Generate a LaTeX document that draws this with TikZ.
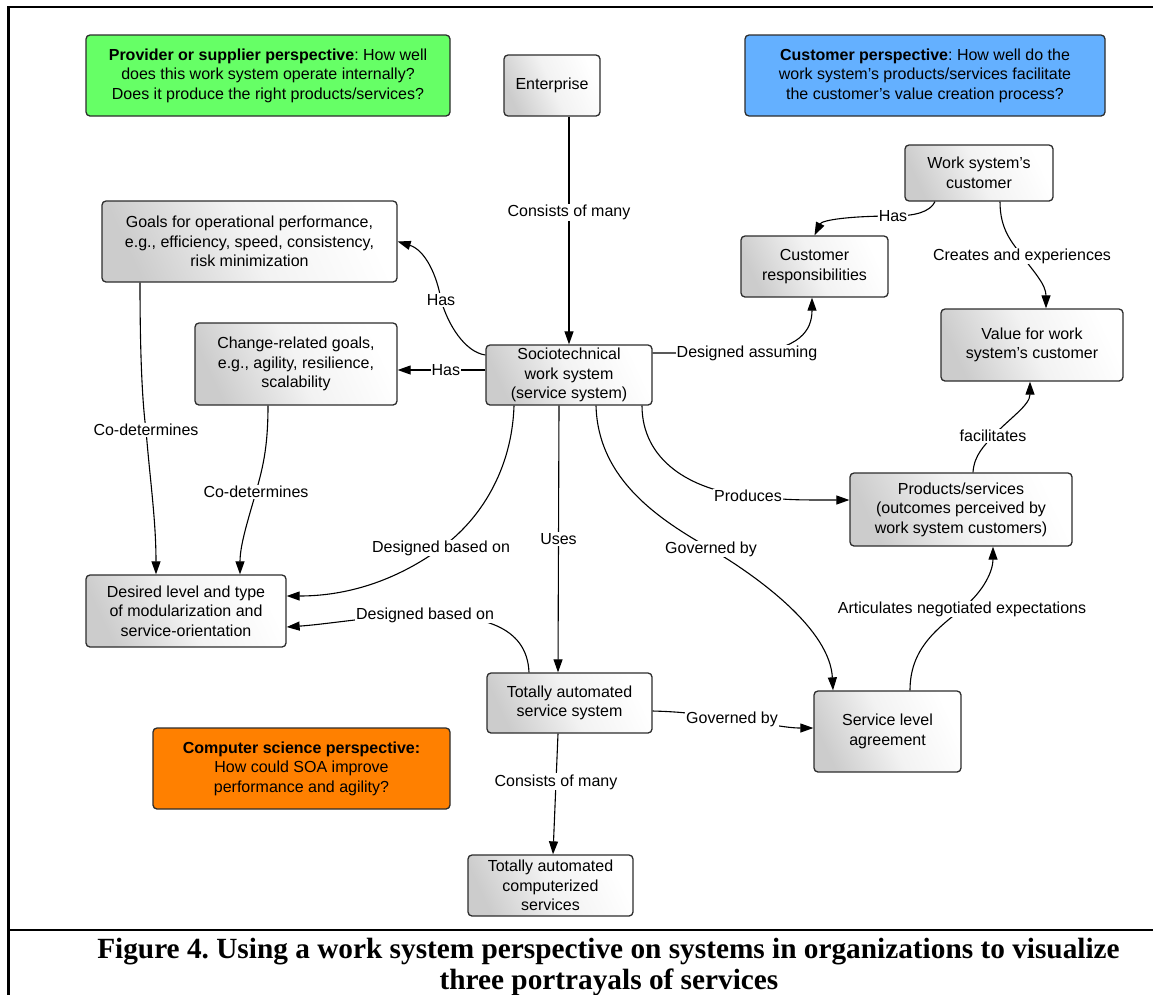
\documentclass[tikz,border=0pt]{standalone}
\usepackage{fontspec}
\setmainfont{Liberation Sans}
\newfontfamily\capfont{Liberation Serif}
\usetikzlibrary{arrows.meta}
\frenchspacing

\definecolor{provgreen}{RGB}{102,255,102}
\definecolor{custblue}{RGB}{100,176,255}
\definecolor{csorange}{RGB}{255,128,0}
\definecolor{rim}{RGB}{45,45,45}

\tikzset{
  txt/.style={font=\fontsize{16}{19.5}\selectfont},
  boxbase/.style={txt, draw=rim, line width=1.3pt, rounded corners=4pt,
    align=center, inner sep=2pt},
  wbox/.style={boxbase, left color=black!20, right color=white,
    middle color=black!5, shading angle=115},
  pbox/.style={boxbase, fill=#1},
  lbl/.style={txt, fill=white, inner sep=1pt},
  arr/.style={draw=black, line width=1.1pt, -{Triangle[length=13pt,width=9pt]}},
  capline/.style={font=\capfont\bfseries\fontsize{29.3}{32}\selectfont, anchor=base},
}

\begin{document}
\begin{tikzpicture}[x=1pt, y=-1pt]
\useasboundingbox (0,0) rectangle (1153,994);
\clip (0,0) rectangle (1153,994);

% page frame and caption rule
\draw[line width=2.5pt] (1170,7) -- (8.5,7) -- (8.5,1010);
\draw[line width=2.2pt] (8.5,930) -- (1170,930);

% perspective boxes
\node[pbox=provgreen, minimum width=364, minimum height=81] (provider) at (268,75.5)
  {\textbf{Provider or supplier perspective}: How well\\does this work system operate internally?\\Does it produce the right products/services?};
\node[pbox=custblue, minimum width=360, minimum height=81] (custp) at (925,75.5)
  {\textbf{Customer perspective}: How well do the\\work system's products/services facilitate\\the customer's value creation process?};
\node[pbox=csorange, minimum width=297, minimum height=81] (csp) at (301.5,768.5)
  {\textbf{Computer science perspective:}\\How could SOA improve\\performance and agility?};

% concept boxes
\node[wbox, minimum width=96,  minimum height=61] (enterprise) at (552,85.5) {Enterprise};
\node[wbox, minimum width=148, minimum height=56] (wscust) at (979,173) {Work system's\\customer};
\node[wbox, minimum width=147, minimum height=61] (custresp) at (814.5,266.5) {Customer\\responsibilities};
\node[wbox, minimum width=182, minimum height=72] (value) at (1032,345) {Value for work\\system's customer};
\node[wbox, minimum width=295, minimum height=81] (goals) at (249.5,241.5)
  {Goals for operational performance,\\e.g., efficiency, speed, consistency,\\risk minimization};
\node[wbox, minimum width=202, minimum height=82] (change) at (296,364)
  {Change-related goals,\\e.g., agility, resilience,\\scalability};
\node[wbox, minimum width=166, minimum height=60] (socio) at (569,375)
  {Sociotechnical\\work system\\(service system)};
\node[wbox, minimum width=222, minimum height=73] (products) at (961,509.5)
  {Products/services\\(outcomes perceived by\\work system customers)};
\node[wbox, minimum width=200, minimum height=72] (desired) at (186,611)
  {Desired level and type\\of modularization and\\service-orientation};
\node[wbox, minimum width=165, minimum height=60] (tas) at (569.5,703)
  {Totally automated\\service system};
\node[wbox, minimum width=147, minimum height=81] (sla) at (887.5,731.5)
  {Service level\\agreement};
\node[wbox, minimum width=165, minimum height=61] (tacs) at (550.5,885.5)
  {Totally automated\\computerized\\services};

% connectors
\draw[arr] ([xshift=17pt]enterprise.south) -- node[lbl, pos=0.42] {Consists of many} (socio.north);

\draw[arr] ([yshift=20pt]socio.west) .. controls (465,352) and (448,325) .. (441,300)
  node[lbl] {Has} .. controls (437,275) and (425,250) .. (goals.east);

\draw[arr] ([yshift=5pt]socio.west) -- node[lbl, pos=0.45] {Has} ([yshift=-6pt]change.east);

\draw[arr] ([xshift=-109.5pt]goals.south) .. controls (140,350) and (142,400) .. (146,430)
  node[lbl] {Co-determines} .. controls (150,480) and (156,520) .. ([xshift=-30pt]desired.north);

\draw[arr] ([xshift=-28pt]change.south) .. controls (268,450) and (262,470) .. (256,492)
  node[lbl] {Co-determines} .. controls (248,520) and (240,545) .. ([xshift=54pt]desired.north);

\draw[arr] ([xshift=-55pt]socio.south) .. controls (512,470) and (480,520) .. (441,548)
  node[lbl] {Designed based on} .. controls (390,585) and (340,596) .. ([yshift=15pt]desired.east);

\draw[arr] ([xshift=-40.5pt]tas.north) .. controls (527,625) and (480,615) .. (425,615)
  node[lbl] {Designed based on} .. controls (380,615) and (330,624) .. ([yshift=-16pt]desired.east);

\draw[arr] ([xshift=-10pt]socio.south) -- node[lbl, pos=0.5] {Uses} ([xshift=-11.5pt]tas.north);

\draw[arr] ([xshift=27pt]socio.south) .. controls (598,480) and (660,520) .. (711,549)
  node[lbl] {Governed by} .. controls (760,578) and (830,630) .. ([xshift=-54.5pt]sla.north);

\draw[arr] ([xshift=73pt]socio.south) .. controls (642,460) and (690,490) .. (748,496)
  node[lbl] {Produces} .. controls (790,500) .. ([yshift=9.5pt]products.west);

\draw[arr] ([yshift=22pt]socio.east) -- (747,353)
  node[lbl] {Designed assuming} .. controls (800,350) and (812,330) .. ([xshift=-2.5pt]custresp.south);

\draw[arr] ([xshift=-44pt]wscust.south) .. controls (930,212) and (915,216) .. (893,216)
  node[lbl] {Has} .. controls (850,216) and (822,220) .. (custresp.north);

\draw[arr] ([xshift=21pt]wscust.south) .. controls (1000,230) and (1012,242) .. (1022,256)
  node[lbl] {Creates and experiences} .. controls (1035,273) and (1046,285) .. ([xshift=14pt]value.north);

\draw[arr] ([xshift=12pt]products.north) .. controls (974,455) and (985,445) .. (993,436)
  node[lbl] {facilitates} .. controls (1010,418) and (1030,405) .. ([xshift=-2pt]value.south);

\draw[arr] ([xshift=22.5pt]sla.north) .. controls (910,650) and (935,630) .. (962,609)
  node[lbl] {Articulates negotiated expectations} .. controls (985,590) and (993,570) .. ([xshift=32pt]products.south);

\draw[arr] ([yshift=-8pt]tas.east) .. controls (690,712) and (700,715) .. (732,719)
  node[lbl] {Governed by} .. controls (765,723) and (785,728) .. ([yshift=3.5pt]sla.west);

\draw[arr] ([xshift=-11.5pt]tas.south) -- node[lbl, pos=0.4] {Consists of many} ([xshift=2.5pt]tacs.north);

% caption
\node[capline] (cap1) at (608.5,958) {Figure 4. Using a work system perspective on systems in organizations to visualize};
\node[capline] (cap2) at (609,989) {three portrayals of services};
\end{tikzpicture}
\end{document}
